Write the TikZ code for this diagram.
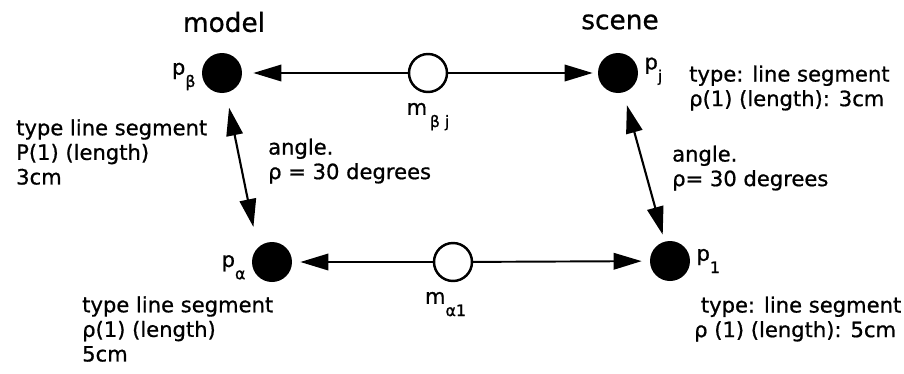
\documentclass[tikz,border=0pt]{standalone}
\usepackage{fontspec}
\setmainfont[FakeBold=0.8]{DejaVu Sans}
\usetikzlibrary{arrows.meta, positioning}

% label with a dropped subscript
\newcommand{\dropsub}[2]{#1\raisebox{-7pt}{\small #2}}

\begin{document}
\begin{tikzpicture}[
          x=0.02cm, y=-0.02cm,
          every node/.style={font=\fontsize{12}{14}\selectfont},
          solid/.style={circle, fill=black, minimum size=0.8cm, inner sep=0pt},
          hollow/.style={circle, draw, line width=1.4pt, fill=white, minimum size=0.76cm, inner sep=0pt},
          info/.style={align=left, anchor=west},
          arrow/.style={-{Triangle[length=5.6mm, width=3.3mm]}, line width=1.1pt},
          twoway/.style={{Triangle[length=5.6mm, width=3.3mm]}-{Triangle[length=5.6mm, width=3.3mm]}, line width=1.2pt}
        ]
          \useasboundingbox (0,0) rectangle (904,373);

          % Headings
          \node[font=\fontsize{15}{17}\selectfont] (model) at (224,22) {model};
          \node[font=\fontsize{15}{17}\selectfont] (scene) at (620,22) {scene};

          % Points
          \node[solid] (pb) at (222,73) {};
          \node[hollow] (mbj) at (428,73) {};
          \node[solid] (pj) at (618,73) {};
          \node[solid] (pa) at (272,262) {};
          \node[hollow] (ma1) at (453,262) {};
          \node[solid] (p1) at (670,261) {};

          % Point names
          \node[left=0pt of pb, yshift=-2pt] (pb name) {\dropsub{p}{β}};
          \node[right=0pt of pj, yshift=1pt] (pj name) {\dropsub{p}{j}};
          \node[left=0pt of pa, yshift=-3pt] (pa name) {\dropsub{p}{α}};
          \node[right=0pt of p1] (p1 name) {\dropsub{p}{1}};
          \node[below=2pt of mbj] (mbj name) {\dropsub{m}{\,β j}};
          \node[below=2pt of ma1, xshift=-0.15cm] (ma1 name) {\dropsub{m}{α1}};

          % Attributes
          \node[info] (pb info) at (10,152) {type line segment\\P(1) (length)\\3cm};
          \node[info] (pj info) at (683,88) {type: line segment\\ρ(1) (length): 3cm};
          \node[info] (pa info) at (76,329) {type line segment\\ρ(1) (length)\\5cm};
          \node[info] (p1 info) at (688,319) {\ type: line segment\\ρ (1) (length): 5cm};
          \node[info] (left angle) at (262,161) {angle.\\ρ = 30 degrees};
          \node[info] (right angle) at (666,168) {angle.\\ρ= 30 degrees};

          % Arrows
          \draw[arrow, shorten >=0.22cm] (mbj) -- (pb);
          \draw[arrow, shorten >=0.1cm] (mbj) -- (pj);
          \draw[arrow, shorten >=0.16cm] (ma1) -- (pa);
          \draw[arrow, shorten >=0.16cm] (ma1) -- (p1);
          \draw[twoway, shorten <=0.3cm, shorten >=0.42cm] (pb) -- (pa.north west);
          \draw[twoway, shorten <=0.26cm, shorten >=0.14cm] (pj) -- (p1);
        \end{tikzpicture}
\end{document}
